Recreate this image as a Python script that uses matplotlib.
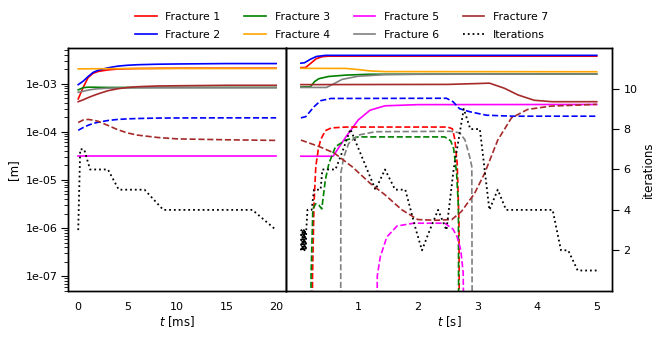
import matplotlib
matplotlib.use("Agg")
import matplotlib.pyplot as plt
from matplotlib.ticker import FuncFormatter, LogLocator, NullFormatter, FixedLocator

# ---------------- data: left panel (first 20 ms) ----------------
ms_t = [0, 0.5, 1, 1.5, 2, 3, 4, 5, 6, 8, 10, 15, 20]
ms_f1 = [4.8e-4, 8.3e-4, 1.33e-3, 1.63e-3, 1.78e-3, 1.92e-3, 2.0e-3, 2.03e-3, 2.05e-3, 2.07e-3, 2.08e-3, 2.08e-3, 2.08e-3]
ms_f2 = [9.5e-4, 1.12e-3, 1.4e-3, 1.7e-3, 1.88e-3, 2.12e-3, 2.3e-3, 2.4e-3, 2.46e-3, 2.52e-3, 2.55e-3, 2.6e-3, 2.6e-3]
ms_f3 = [7.4e-4, 8.2e-4, 8.4e-4, 8.4e-4, 8.35e-4, 8.3e-4, 8.3e-4, 8.3e-4, 8.3e-4, 8.3e-4, 8.3e-4, 8.3e-4, 8.3e-4]
ms_f4 = [2.02e-3, 2.02e-3, 2.02e-3, 2.03e-3, 2.03e-3, 2.04e-3, 2.04e-3, 2.05e-3, 2.05e-3, 2.05e-3, 2.06e-3, 2.06e-3, 2.06e-3]
ms_f5 = [3.1e-5] * 13
ms_f6 = [6.6e-4, 6.9e-4, 7.3e-4, 7.6e-4, 7.8e-4, 8.0e-4, 8.1e-4, 8.1e-4, 8.15e-4, 8.2e-4, 8.2e-4, 8.2e-4, 8.2e-4]
ms_f7 = [4.2e-4, 4.6e-4, 5.1e-4, 5.6e-4, 6.1e-4, 7.1e-4, 7.8e-4, 8.3e-4, 8.6e-4, 8.9e-4, 9.0e-4, 9.2e-4, 9.2e-4]
ms_f2_d = [1.07e-4, 1.22e-4, 1.36e-4, 1.48e-4, 1.57e-4, 1.71e-4, 1.8e-4, 1.85e-4, 1.88e-4, 1.92e-4, 1.93e-4, 1.94e-4, 1.94e-4]
ms_f7_d = [1.55e-4, 1.75e-4, 1.8e-4, 1.74e-4, 1.65e-4, 1.35e-4, 1.1e-4, 9.4e-5, 8.5e-5, 7.6e-5, 7.1e-5, 6.8e-5, 6.6e-5]
ms_iter_t = [0, 0.2, 0.6, 1.2, 3.0, 4.1, 6.7, 8.6, 17.6, 20]
ms_iter = [3, 7, 7, 6, 6, 5, 5, 4, 4, 3]

# ---------------- data: right panel (seconds) ----------------
s_f1_t = [0.04, 0.12, 0.2, 0.3, 0.4, 0.5, 5.0]
s_f1 = [2.14e-3, 2.16e-3, 2.6e-3, 3.3e-3, 3.62e-3, 3.7e-3, 3.7e-3]
s_f2_t = [0.04, 0.1, 0.2, 0.3, 0.45, 5.0]
s_f2 = [2.65e-3, 2.7e-3, 3.2e-3, 3.65e-3, 3.85e-3, 3.85e-3]
s_f3_t = [0.04, 0.2, 0.27, 0.34, 0.5, 0.8, 1.2, 5.0]
s_f3 = [8.5e-4, 8.6e-4, 1.1e-3, 1.26e-3, 1.4e-3, 1.5e-3, 1.56e-3, 1.58e-3]
s_f4_t = [0.04, 0.8, 1.0, 1.2, 1.45, 5.0]
s_f4 = [2.07e-3, 2.06e-3, 1.95e-3, 1.83e-3, 1.77e-3, 1.76e-3]
s_f5_t = [0.04, 0.58, 0.8, 1.0, 1.2, 1.45, 2.0, 5.0]
s_f5 = [3.1e-5, 3.1e-5, 8e-5, 1.75e-4, 2.8e-4, 3.45e-4, 3.65e-4, 3.68e-4]
s_f6_t = [0.04, 0.47, 0.6, 0.73, 1.0, 1.45, 2.0, 5.0]
s_f6 = [8.3e-4, 8.3e-4, 1.0e-3, 1.22e-3, 1.42e-3, 1.53e-3, 1.56e-3, 1.58e-3]
s_f7_t = [0.04, 2.5, 3.0, 3.2, 3.45, 3.68, 3.95, 4.25, 5.0]
s_f7 = [9.5e-4, 9.6e-4, 1.0e-3, 1.02e-3, 8e-4, 5.8e-4, 4.5e-4, 4.2e-4, 4.2e-4]

s_f1_d_t = [0.23, 0.235, 0.26, 0.29, 0.33, 0.37, 0.45, 0.55, 0.8, 2.5, 2.58, 2.62, 2.66, 2.69, 2.70]
s_f1_d = [1e-10, 1e-7, 3.2e-6, 1.9e-5, 4.2e-5, 6.8e-5, 1.05e-4, 1.2e-4, 1.25e-4, 1.25e-4, 1.15e-4, 7e-5, 2.2e-5, 1.3e-6, 1e-10]
s_f2_d_t = [0.04, 0.12, 0.26, 0.37, 0.54, 2.48, 2.59, 2.7, 2.87, 3.15, 3.6, 5.0]
s_f2_d = [1.94e-4, 2.05e-4, 3.3e-4, 4.4e-4, 4.9e-4, 4.95e-4, 4.2e-4, 3.0e-4, 2.6e-4, 2.2e-4, 2.1e-4, 2.1e-4]
s_f3_d_t = [0.205, 0.21, 0.24, 0.29, 0.34, 0.39, 0.45, 0.51, 0.62, 0.79, 1.0, 2.45, 2.55, 2.6, 2.65, 2.68, 2.69]
s_f3_d = [1e-10, 1e-7, 2.5e-6, 3.2e-6, 3.0e-6, 2.5e-6, 1e-5, 2.2e-5, 4.9e-5, 6.7e-5, 7.8e-5, 7.8e-5, 6.5e-5, 4.5e-5, 1.4e-5, 2.8e-6, 1e-10]
s_f5_d_t = [1.315, 1.32, 1.37, 1.48, 1.65, 1.93, 2.45, 2.59, 2.66, 2.72, 2.76, 2.79]
s_f5_d = [1e-10, 1e-7, 2.5e-7, 6.5e-7, 1.1e-6, 1.26e-6, 1.26e-6, 9.5e-7, 6.5e-7, 3.5e-7, 1.2e-7, 1e-10]
s_f6_d_t = [0.705, 0.71, 0.76, 0.84, 1.0, 1.29, 2.55, 2.7, 2.79, 2.87, 2.905, 2.915]
s_f6_d = [1e-10, 1.4e-5, 3e-5, 5.7e-5, 8.5e-5, 1.0e-4, 1.02e-4, 9.5e-5, 6.8e-5, 3e-5, 1.9e-5, 1e-10]
s_f7_d_t = [0.04, 0.35, 0.6, 0.9, 1.2, 1.45, 1.73, 2.0, 2.3, 2.57, 2.73, 2.95, 3.12, 3.34, 3.57, 3.84, 4.23, 5.0]
s_f7_d = [6.7e-5, 4.9e-5, 3.6e-5, 1.87e-5, 8.5e-6, 4.9e-6, 2.4e-6, 1.5e-6, 1.45e-6, 1.5e-6, 2.2e-6, 5.2e-6, 1.37e-5, 6.7e-5, 1.94e-4, 2.9e-4, 3.4e-4, 3.7e-4]

s_iter_t = [0.04, 0.05, 0.06, 0.07, 0.08, 0.09, 0.10, 0.11, 0.12, 0.13, 0.15, 0.22, 0.26, 0.37, 0.40,
            0.62, 0.75, 0.87, 1.01, 1.15, 1.29, 1.45, 1.62, 1.79, 1.88, 1.97, 2.07, 2.2, 2.34, 2.48,
            2.6, 2.77, 2.88, 3.04, 3.2, 3.34, 3.48, 4.26, 4.4, 4.52, 4.68, 5.0]
s_iter = [2, 3, 2, 3, 2, 3, 2, 3, 2, 3, 4, 4, 5, 5, 6,
          6, 7, 8, 7, 6, 5, 6, 5, 5, 4, 3, 2, 3, 4, 3,
          6, 9, 8, 8, 4, 5, 4, 4, 2, 2, 1, 1]

labels = ["Fracture 1", "Fracture 2", "Fracture 3", "Fracture 4",
          "Fracture 5", "Fracture 6", "Fracture 7"]
colors = ["red", "blue", "green", "orange", "magenta", "gray", "brown"]

plt.rcParams["font.size"] = 8
plt.rcParams["axes.labelsize"] = 8.5
plt.rcParams["axes.linewidth"] = 1.0

fig = plt.figure(figsize=(6.62, 3.4), dpi=100)
ax0 = fig.add_axes([0.1032, 0.145, 0.3289, 0.713])
ax1 = fig.add_axes([0.4320, 0.145, 0.4920, 0.713], sharey=ax0)
tw0 = ax0.twinx()
tw1 = ax1.twinx()

lw = 1.2
ms_solid = [ms_f1, ms_f2, ms_f3, ms_f4, ms_f5, ms_f6, ms_f7]
handles = []
for vals, c, lab in zip(ms_solid, colors, labels):
    h, = ax0.plot(ms_t, vals, color=c, lw=lw, label=lab)
    handles.append(h)
ax0.plot(ms_t, ms_f2_d, color="blue", lw=lw, ls="--")
ax0.plot(ms_t, ms_f7_d, color="brown", lw=lw, ls="--")
tw0.plot(ms_iter_t, ms_iter, color="black", lw=1.3, ls=":")

s_solid = [(s_f1_t, s_f1), (s_f2_t, s_f2), (s_f3_t, s_f3), (s_f4_t, s_f4),
           (s_f5_t, s_f5), (s_f6_t, s_f6), (s_f7_t, s_f7)]
for (t, v), c in zip(s_solid, colors):
    ax1.plot(t, v, color=c, lw=lw)
s_dashed = [(s_f1_d_t, s_f1_d, "red"), (s_f2_d_t, s_f2_d, "blue"), (s_f3_d_t, s_f3_d, "green"),
            (s_f5_d_t, s_f5_d, "magenta"), (s_f6_d_t, s_f6_d, "gray"), (s_f7_d_t, s_f7_d, "brown")]
for t, v, c in s_dashed:
    ax1.plot(t, v, color=c, lw=lw, ls="--")
h_it, = tw1.plot(s_iter_t, s_iter, color="black", lw=1.3, ls=":", label="Iterations")
handles.append(h_it)

# axes setup
ax0.set_yscale("log")
ax0.set_ylim(5e-8, 5.4e-3)
ax0.yaxis.set_major_locator(LogLocator(base=10, numticks=20))
ax0.yaxis.set_minor_locator(LogLocator(base=10, subs=range(2, 10), numticks=20))
ax0.yaxis.set_minor_formatter(NullFormatter())
ax0.yaxis.set_major_formatter(FuncFormatter(lambda v, p: f"{v:.0e}"))
ax0.tick_params(axis="y", which="major", length=5, width=0.8, pad=2.4)
ax0.tick_params(axis="y", which="minor", length=3, width=0.6)
ax0.set_xlim(-1, 21)
ax0.set_xticks([0, 5, 10, 15, 20])
ax0.tick_params(axis="x", length=0, pad=8)
ax0.set_ylabel("[m]")
ax0.set_xlabel("$t$ [ms]", labelpad=2)

ax1.set_xlim(-0.21, 5.25)
ax1.set_xticks([1, 2, 3, 4, 5])
ax1.tick_params(axis="x", length=0, pad=8)
ax1.tick_params(axis="y", which="both", left=False, labelleft=False)
ax1.set_xlabel("$t$ [s]", labelpad=2)

for tw in (tw0, tw1):
    tw.set_ylim(0, 12)
tw0.tick_params(axis="y", right=False, labelright=False)
tw1.yaxis.set_major_locator(FixedLocator([2, 4, 6, 8, 10]))
tw1.tick_params(axis="y", length=5, width=0.8)
tw1.set_ylabel("iterations", labelpad=3)

fig.legend(handles=handles, labels=labels + ["Iterations"], ncol=4, loc="upper center",
           bbox_to_anchor=(0.516, 0.993), frameon=False, fontsize=7.8,
           columnspacing=2.2, labelspacing=0.7, handlelength=2.0)

fig.savefig("out.png", dpi=100)
